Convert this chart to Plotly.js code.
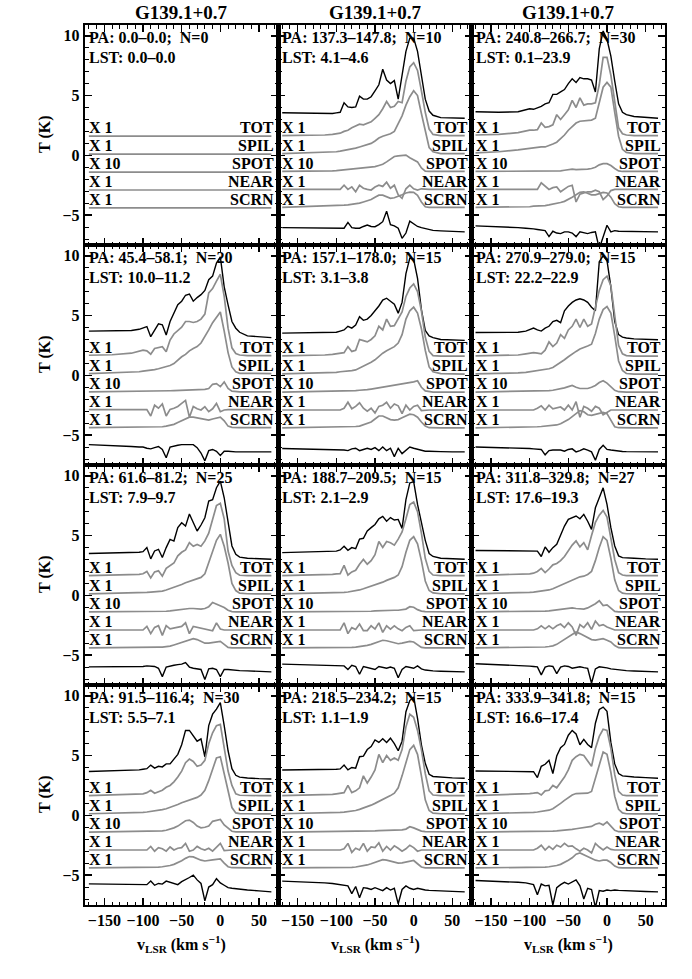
<!DOCTYPE html>
<html>
<head>
<meta charset="utf-8">
<script src="https://cdn.plot.ly/plotly-3.0.1.min.js"></script>
<style>html,body{margin:0;padding:0;background:#fff;}#plot{width:692px;height:979px;}</style>
</head>
<body>
<div id="plot"></div>
<script>
// ---------------- DATA ----------------
const vel = [-170,-140,-115,-105,-100,-95,-90,-85,-80,-75,-70,-65,-60,-55,-50,-45,-40,-35,-30,-25,-20,-15,-10,-5,0,5,10,15,20,25,35,50,66];

const columnTitles = ['G139.1+0.7','G139.1+0.7','G139.1+0.7'];
const paLabels = ['PA: 0.0–0.0;  N=0','PA: 137.3–147.8;  N=10','PA: 240.8–266.7;  N=30',
  'PA: 45.4–58.1;  N=20','PA: 157.1–178.0;  N=15','PA: 270.9–279.0;  N=15',
  'PA: 61.6–81.2;  N=25','PA: 188.7–209.5;  N=15','PA: 311.8–329.8;  N=27',
  'PA: 91.5–116.4;  N=30','PA: 218.5–234.2;  N=15','PA: 333.9–341.8;  N=15'];
const lstLabels = ['LST: 0.0–0.0','LST: 4.1–4.6','LST: 0.1–23.9','LST: 10.0–11.2','LST: 3.1–3.8','LST: 22.2–22.9',
  'LST: 7.9–9.7','LST: 2.1–2.9','LST: 17.6–19.3','LST: 5.5–7.1','LST: 1.1–1.9','LST: 16.6–17.4'];
const scaleLabels = ['X 1','X 1','X 10','X 1','X 1'];
const compNames = ['TOT','SPIL','SPOT','NEAR','SCRN'];
const xTickVals = [-150,-100,-50,0,50];
const yTickVals = [-5,0,5,10];

// panel 1 (N=0): flat components
const p1_zero = [0,0,0,0,0,0,0,0,0,0,0,0,0,0,0,0,0,0,0,0,0,0,0,0,0,0,0,0,0,0,0,0,0];

// panel 2
const p2_totBlack=[0.46,0.43,0.4,0.4,0.45,0.5,1.3,0.95,0.9,0.95,1.85,1.6,1.6,1.8,2.3,2.8,4.1,3.2,2.9,3.15,1.6,3.7,5.6,6.7,6.7,5.6,3.6,1.6,0.6,0.25,0.05,0.0,0.0];
const p2_totGray=[0.05,0.05,0.1,0.15,0.2,0.25,0.4,0.5,0.7,0.85,1.0,0.95,1.1,1.2,1.5,1.8,2.3,2.9,2.4,2.5,2.9,2.8,4.6,5.8,6.15,5.5,3.8,2.0,0.6,0.15,0.05,0.05,0.05];
const p2_spil=[0.05,0.1,0.15,0.2,0.2,0.25,0.3,0.35,0.4,0.5,0.6,0.7,0.8,0.9,1.1,1.35,1.5,1.6,1.7,1.9,2.5,3.2,4.1,4.8,5.3,4.9,3.4,1.9,0.55,0.2,0.05,0.05,0.05];
const p2_spot=[0.05,0.05,0.1,0.1,0.12,0.15,0.18,0.2,0.25,0.3,0.33,0.35,0.35,0.4,0.45,0.55,0.65,0.85,1.1,1.3,1.35,1.4,1.42,1.2,1.05,0.85,0.35,0.08,0.05,0.05,0.05,0.05,0.05];
const p2_near=[0.05,0.05,0.05,0.05,0.05,0.05,0.4,0.05,0.26,-0.15,0.4,0.15,0.05,0.0,0.25,0.4,0.3,0.65,0.15,0.4,-0.4,-0.7,0.1,0.4,0.1,0.0,0.1,0.05,0.05,0.05,0.05,0.05,0.05];
const p2_scrn=[0.05,0.1,0.15,0.17,0.18,0.2,0.23,0.26,0.3,0.35,0.4,0.5,0.6,0.7,0.9,1.07,1.07,0.95,0.8,0.85,0.95,1.1,1.25,1.32,1.3,1.05,0.5,0.1,0.05,0.05,0.05,0.05,0.05];
const p2_resid=[0.35,0.32,0.3,0.28,0.28,0.27,0.3,0.79,0.35,0.3,0.3,0.45,0.57,0.45,0.43,0.6,0.85,1.73,0.6,0.5,0.3,-0.54,-0.1,0.9,0.7,0.45,0.35,0.28,0.18,0.12,0.08,0.03,0.0];

// panel 3
const p3_totBlack=[0.55,0.5,0.55,0.75,0.8,0.75,0.85,1.0,1.2,1.3,2.0,2.0,2.2,2.4,2.9,3.3,3.0,3.4,3.3,3.3,3.2,2.2,5.8,7.3,6.6,5.2,3.1,1.2,0.5,0.3,0.15,0.05,0.0];
const p3_totGray=[0.1,0.15,0.3,0.45,0.5,0.5,0.55,1.1,0.75,0.8,0.95,1.8,1.4,1.8,2.2,3.0,2.4,3.2,2.6,2.7,2.7,2.8,4.3,6.6,6.6,5.1,2.8,0.7,0.2,0.1,0.05,0.05,0.05];
const p3_spil=[0.1,0.2,0.35,0.45,0.5,0.5,0.55,0.6,0.6,0.7,0.85,1.0,1.3,1.6,2.0,2.3,2.6,2.75,2.8,2.8,2.85,3.0,4.2,5.6,6.0,5.6,3.5,1.5,0.4,0.15,0.05,0.05,0.05];
const p3_spot=[0.05,0.05,0.06,0.07,0.08,0.08,0.09,0.1,0.1,0.1,0.1,0.1,0.1,0.15,0.2,0.25,0.2,0.2,0.2,0.25,0.3,0.4,0.6,0.7,0.7,0.55,0.3,0.1,0.05,0.05,0.05,0.05,0.05];
const p3_near=[0.05,0.05,0.05,0.05,0.05,0.05,0.05,0.6,0.35,0.05,0.2,0.25,-0.15,0.05,0.3,0.4,-1.0,-0.35,-0.25,-0.15,-0.15,-0.02,-0.15,-0.8,-0.5,-0.05,0.05,0.05,0.05,0.05,0.05,0.05,0.05];
const p3_scrn=[0.05,0.05,0.1,0.1,0.1,0.15,0.15,0.2,0.2,0.25,0.3,0.35,0.45,0.55,0.7,0.9,1.1,1.3,1.35,1.2,1.1,1.1,1.2,1.3,1.25,0.9,0.35,0.1,0.05,0.05,0.05,0.05,0.05];
const p3_resid=[0.5,0.45,0.35,0.3,0.3,0.25,0.2,0.15,0.1,-0.4,0.05,-0.1,-0.15,0.0,0.0,-0.1,-0.4,0.0,-0.1,-0.15,-0.05,0.0,-1.4,-0.5,0.55,0.0,0.1,0.05,0.05,0.05,0.05,0.02,0.0];

// panel 4
const p4_totBlack=[0.6,0.6,0.65,0.75,0.84,0.98,0.13,0.7,1.2,1.12,0.27,1.4,2.1,2.8,3.1,3.6,3.7,3.1,3.4,3.65,4.0,4.9,5.2,6.3,6.8,4.3,2.8,1.4,0.84,0.5,0.2,0.1,0.05];
const p4_totGray=[0.08,0.12,0.25,0.4,0.5,0.45,0.17,0.65,0.73,0.8,0.37,1.35,1.86,2.14,2.42,2.9,2.9,2.82,2.9,3.1,3.52,5.3,5.66,6.28,6.85,5.01,2.34,0.7,0.22,0.1,0.05,0.05,0.05];
const p4_spil=[0.05,0.1,0.15,0.2,0.25,0.28,0.32,0.38,0.45,0.54,0.62,0.72,0.88,1.2,1.45,1.65,1.95,2.15,2.3,2.6,3.1,3.7,4.3,4.8,5.2,3.6,1.8,0.6,0.2,0.07,0.05,0.05,0.05];
const p4_spot=[0.02,0.03,0.04,0.05,0.05,0.06,0.07,0.08,0.09,0.1,0.1,0.11,0.12,0.13,0.14,0.15,0.16,0.17,0.18,0.2,0.22,0.3,0.65,0.7,0.45,0.85,0.3,0.08,0.03,0.02,0.02,0.02,0.02];
const p4_near=[0.03,0.03,0.03,0.03,0.03,0.03,-0.5,0.4,0.15,0.5,-0.5,0.05,0.15,0.3,0.55,0.8,-0.6,0.3,0.1,0.0,0.28,-0.14,0.1,0.55,-0.14,0.0,0.03,0.03,0.03,0.03,0.03,0.03,0.03];
const p4_scrn=[0.02,0.03,0.04,0.05,0.05,0.05,0.06,0.07,0.08,0.1,0.15,0.2,0.3,0.45,0.6,0.8,0.9,0.9,0.85,0.8,0.7,0.65,0.75,0.85,0.9,0.6,0.15,0.05,0.02,0.02,0.02,0.02,0.02];
const p4_resid=[0.6,0.55,0.45,0.4,0.4,0.3,0.25,0.35,0.45,0.2,-0.5,0.4,0.5,0.55,0.6,0.6,0.65,0.6,0.35,-0.1,-0.75,0.1,0.2,0.05,-0.3,0.05,0.05,0.0,0.0,0.0,0.0,0.0,0.0];

// panel 5
const p5_totBlack=[0.43,0.45,0.45,0.48,0.5,0.6,0.7,1.0,0.85,1.1,1.8,1.5,1.6,1.9,2.3,2.7,3.2,3.35,3.1,2.85,2.1,3.0,5.4,6.7,6.6,5.0,2.4,0.65,0.2,0.05,-0.1,-0.15,-0.18];
const p5_totGray=[0.02,0.05,0.1,0.15,0.2,0.25,0.3,0.8,0.4,0.5,1.4,1.3,1.2,1.4,1.7,2.5,2.2,3.1,2.5,2.55,3.1,3.7,5.0,5.7,6.05,5.4,3.8,1.6,0.4,0.05,0.0,0.0,0.0];
const p5_spil=[0.02,0.05,0.1,0.12,0.15,0.2,0.22,0.25,0.3,0.35,0.5,0.65,0.8,1.0,1.2,1.5,1.75,1.95,2.1,2.3,2.6,3.3,4.6,5.3,5.6,5.1,3.8,2.0,0.6,0.2,0.05,0.0,0.0];
const p5_spot=[0.0,0.02,0.05,0.05,0.05,0.05,0.08,0.1,0.1,0.12,0.15,0.15,0.2,0.25,0.3,0.35,0.45,0.5,0.55,0.6,0.65,0.7,0.7,0.75,0.85,0.95,0.4,0.1,0.02,0.0,0.0,0.0,0.0];
const p5_near=[0,0,0,0,0,0,0.15,0.65,0.1,0.3,0.6,0.15,-0.1,0.15,-0.25,0.3,0.4,0.65,0.15,0.5,0.35,-0.3,0.4,0.0,0.3,0.4,-0.05,0,0,0,0,0,0];
const p5_scrn=[0,0.02,0.05,0.05,0.05,0.05,0.07,0.1,0.1,0.12,0.15,0.25,0.35,0.5,0.75,1.0,1.0,0.85,0.7,0.65,0.7,0.85,1.0,1.15,1.1,0.9,0.5,0.15,0.02,0,0,0,0];
const p5_resid=[0.28,0.25,0.2,0.18,0.15,0.15,0.15,0.1,0.25,0.3,0.1,0.2,0.3,0.2,0.35,0.1,0.4,0.1,0.3,-0.4,0.3,-0.15,0.15,0.4,0.3,0.2,0.1,0.05,0.05,0.03,0.02,0,0];

// panel 6
const p6_totBlack=[0.48,0.48,0.5,0.6,0.7,0.85,0.7,0.6,0.85,1.0,1.4,1.5,1.3,2.3,2.7,3.0,3.2,3.3,3.2,3.0,2.6,2.3,6.4,6.9,6.5,4.3,1.4,0.3,0.1,0.02,-0.05,-0.1,-0.12];
const p6_totGray=[0.02,0.05,0.1,0.2,0.25,0.3,0.25,0.2,0.5,1.2,0.8,1.1,1.8,1.5,2.2,2.5,3.1,2.4,3.1,2.5,2.7,4.0,5.5,6.4,6.7,5.9,3.4,0.9,0.2,0.05,0,0,0];
const p6_spil=[0.02,0.05,0.1,0.15,0.2,0.22,0.28,0.32,0.4,0.45,0.55,0.75,0.95,1.2,1.45,1.7,1.9,2.1,2.2,2.35,2.5,3.4,4.6,5.4,5.65,5.1,3.2,1.1,0.3,0.05,0,0,0];
const p6_spot=[0,0.02,0.04,0.05,0.06,0.07,0.08,0.09,0.1,0.12,0.15,0.2,0.25,0.35,0.45,0.55,0.4,0.3,0.3,0.3,0.4,0.55,0.8,0.95,0.75,0.45,0.15,0.03,0,0,0,0,0];
const p6_near=[0,0,0,0,0,0,0.15,0.35,0.0,0.4,0.1,0.15,0.25,0.0,0.4,0.0,0.7,-0.6,0.3,0.15,-0.1,0.3,0.15,-0.4,-0.2,0.0,0,0,0,0,0,0,0];
const p6_scrn=[0,0.02,0.05,0.05,0.07,0.08,0.1,0.12,0.15,0.17,0.2,0.25,0.35,0.5,0.7,0.95,1.2,1.45,1.35,1.1,1.05,1.15,1.25,1.3,1.2,0.6,0.1,0.02,0,0,0,0,0];
const p6_resid=[0.41,0.38,0.33,0.3,0.28,0.25,0.22,0.2,-0.25,0.1,0.15,0.12,0.15,0.05,0.2,0.25,0.0,0.1,0.25,0.15,0.0,-0.7,0.2,0.55,0.2,0.15,0.1,0.05,0.03,0.02,0.01,0,0];

// panel 7
const p7_totBlack=[0.4,0.42,0.45,0.5,0.55,0.9,-0.05,0.61,0.75,0.06,0.89,1.58,1.44,2.56,2.97,2.69,3.7,2.97,2.28,2.78,3.39,4.78,4.9,5.9,6.45,5.06,2.97,1.03,0.33,0.1,0.0,-0.05,-0.08];
const p7_totGray=[0.05,0.08,0.12,0.15,0.2,0.4,-0.15,0.36,0.45,0.0,0.65,0.85,1.1,1.7,2.0,2.2,2.8,2.5,2.65,2.5,2.95,3.6,4.8,5.9,6.1,4.8,2.1,0.9,0.3,0.08,0.05,0.05,0.05];
const p7_spil=[0.02,0.05,0.07,0.1,0.12,0.14,0.17,0.2,0.22,0.25,0.35,0.45,0.55,0.65,0.8,0.95,1.05,1.15,1.3,1.4,1.7,2.6,3.5,4.5,5.0,4.0,2.6,0.9,0.3,0.08,0.03,0.02,0.02];
const p7_spot=[0.02,0.02,0.03,0.03,0.04,0.04,0.05,0.05,0.05,0.06,0.07,0.1,0.15,0.2,0.2,0.25,0.3,0.3,0.25,0.25,0.3,0.45,0.8,0.65,0.5,0.38,0.15,0.04,0.02,0.02,0.02,0.02,0.02];
const p7_near=[0,0,0,0,0,0.3,-0.3,0.22,0.36,-0.45,0.36,0.1,0.15,0.22,0.3,0.6,-0.3,0.3,0.22,0.2,0.08,0.0,-0.06,0.6,0.08,0.0,0,0,0,0,0,0,0];
const p7_scrn=[0,0,0.01,0.02,0.03,0.04,0.05,0.05,0.06,0.07,0.1,0.15,0.25,0.35,0.45,0.6,0.7,0.78,0.7,0.55,0.4,0.4,0.45,0.5,0.55,0.3,0.05,0,0,0,0,0,0];
const p7_resid=[0.42,0.42,0.45,0.45,0.45,0.5,0.5,0.45,0.3,-0.4,0.4,0.5,0.55,0.6,0.65,0.78,0.4,0.3,0.25,0.2,-0.65,0.25,0.3,0.2,-0.4,0.2,0.2,0.15,0.12,0.1,0.08,0.03,0.0];

// panel 8
const p8_totBlack=[0.47,0.5,0.55,0.58,0.6,0.7,1.0,0.67,0.89,0.8,1.6,1.67,2.28,2.56,2.83,3.3,3.5,3.1,3.4,3.2,3.25,2.5,4.9,6.3,6.4,4.5,3.0,1.5,0.4,0.15,0.0,-0.05,-0.08];
const p8_totGray=[0.05,0.08,0.12,0.15,0.2,0.22,0.9,0.1,0.36,0.5,1.0,1.4,1.0,1.3,1.8,2.9,2.4,2.9,2.8,2.6,3.1,3.7,4.8,6.0,6.2,5.4,3.6,1.5,0.4,0.1,0.05,0.05,0.05];
const p8_spil=[0.02,0.05,0.07,0.08,0.1,0.12,0.15,0.18,0.22,0.28,0.35,0.45,0.55,0.65,0.78,0.9,1.0,1.15,1.25,1.4,1.6,2.3,3.5,4.5,4.8,4.2,2.8,1.1,0.3,0.1,0.03,0.02,0.02];
const p8_spot=[0.02,0.02,0.02,0.03,0.03,0.03,0.03,0.04,0.04,0.05,0.05,0.05,0.05,0.07,0.1,0.12,0.15,0.15,0.15,0.15,0.15,0.2,0.25,0.45,0.4,0.2,0.08,0.03,0.02,0.02,0.02,0.02,0.02];
const p8_near=[0,0,0,0,0,0,0.6,-0.3,0.2,0.05,0.5,-0.05,-0.05,0.35,0.08,0.6,-0.2,0.35,0.08,0.35,0.1,-0.06,0.22,0.36,-0.06,0.0,0,0,0,0,0,0,0];
const p8_scrn=[0,0,0,0.01,0.02,0.02,0.03,0.03,0.05,0.07,0.1,0.15,0.22,0.3,0.42,0.55,0.64,0.6,0.5,0.4,0.35,0.4,0.5,0.55,0.5,0.25,0.05,0,0,0,0,0,0];
const p8_resid=[0.65,0.6,0.58,0.56,0.55,0.55,0.5,0.2,0.55,0.45,-0.2,0.45,0.35,0.3,0.2,0.45,0.35,0.3,0.4,0.3,-0.5,0.2,0.45,0.35,0.3,0.5,0.25,0.15,0.1,0.08,0.05,0.02,0.0];

// panel 9
const p9_totBlack=[0.65,0.62,0.6,0.6,0.6,0.6,0.6,0.15,0.95,0.5,0.89,1.17,2.0,2.69,3.25,3.39,3.53,3.3,3.67,3.1,2.42,4.22,5.06,5.89,4.5,2.56,1.03,0.2,0.05,0.02,0.0,-0.05,-0.08];
const p9_totGray=[0.05,0.1,0.15,0.18,0.2,0.25,0.4,0.65,0.3,0.6,0.95,1.06,1.3,1.65,2.17,2.6,2.95,2.45,2.8,2.2,3.4,4.5,5.1,5.5,4.95,3.2,1.4,0.3,0.1,0.05,0.05,0.05,0.05];
const p9_spil=[0.02,0.05,0.1,0.12,0.15,0.17,0.2,0.25,0.3,0.35,0.45,0.6,0.75,0.9,1.05,1.2,1.35,1.45,1.5,1.65,1.9,2.8,3.9,4.8,4.5,3.0,1.2,0.3,0.08,0.03,0.02,0.02,0.02];
const p9_spot=[0.02,0.02,0.03,0.04,0.05,0.06,0.07,0.07,0.08,0.1,0.15,0.2,0.25,0.3,0.35,0.35,0.3,0.25,0.25,0.35,0.5,0.7,0.95,0.55,0.6,0.3,0.05,0.02,0.02,0.02,0.02,0.02,0.02];
const p9_near=[0,0,0,0,0,0,0.1,0.35,0.1,0.35,0.1,0.35,0.5,0.2,0.6,0.25,-0.45,0.45,0.2,0.6,0.05,0.75,0.35,0.45,0.25,0.1,0,0,0,0,0,0,0];
const p9_scrn=[0,0.01,0.02,0.03,0.04,0.05,0.05,0.06,0.08,0.12,0.17,0.3,0.5,0.7,0.92,1.15,1.33,1.2,1.05,0.9,0.7,0.65,0.7,0.78,0.65,0.5,0.2,0.02,0,0,0,0,0];
const p9_resid=[0.68,0.62,0.55,0.5,0.48,0.45,0.42,-0.25,0.4,0.5,0.45,-0.15,0.4,0.5,0.45,0.3,0.35,0.42,0.35,0.3,-0.95,0.25,0.42,0.4,0.33,0.25,0.2,0.15,0.12,0.1,0.07,0.03,0.0];

// panel 10
const p10_totBlack=[0.56,0.6,0.65,0.7,0.75,0.8,1.1,0.85,1.0,0.95,1.2,1.2,1.6,2.0,2.8,4.0,4.0,3.5,3.1,3.3,1.8,4.4,5.36,5.78,6.33,4.4,2.3,0.8,0.25,0.1,0.02,-0.03,-0.06];
const p10_totGray=[0.05,0.1,0.15,0.17,0.2,0.3,0.5,0.25,0.35,0.5,0.75,0.9,1.2,1.6,2.1,2.8,3.1,2.9,2.5,2.6,3.0,4.39,5.3,5.9,6.0,4.0,2.1,0.9,0.2,0.08,0.05,0.05,0.05];
const p10_spil=[0.03,0.06,0.1,0.12,0.15,0.18,0.22,0.26,0.3,0.38,0.45,0.55,0.65,0.8,0.95,1.05,1.15,1.25,1.4,1.6,2.0,2.8,3.67,4.7,4.8,3.4,1.9,0.55,0.1,0.05,0.03,0.02,0.02];
const p10_spot=[0.0,0.02,0.03,0.04,0.05,0.05,0.06,0.07,0.08,0.1,0.15,0.22,0.35,0.5,0.75,0.95,1.0,0.8,0.5,0.35,0.4,0.5,0.9,0.95,1.05,0.6,0.3,0.07,0.02,0.02,0.02,0.02,0.02];
const p10_near=[0,0,0,0,0,0,0.3,-0.1,0.2,0.1,-0.1,0.25,0.0,0.15,0.2,0.55,-0.1,0.0,0.3,0.1,0.0,0.15,-0.1,0.2,0.55,-0.05,0,0,0,0,0,0,0];
const p10_scrn=[0,0.01,0.02,0.03,0.04,0.04,0.04,0.05,0.07,0.1,0.14,0.2,0.3,0.42,0.6,0.8,0.95,0.92,0.78,0.65,0.58,0.6,0.68,0.72,0.75,0.4,0.1,0.02,0,0,0,0,0];
const p10_resid=[0.67,0.65,0.62,0.6,0.6,0.6,0.9,0.55,0.7,0.65,0.9,0.8,0.65,0.6,0.85,1.0,1.2,1.4,1.0,0.7,-0.75,0.4,0.6,1.1,0.75,0.55,0.35,0.3,0.25,0.2,0.15,0.08,0.0];

// panel 11
const p11_totBlack=[0.69,0.7,0.7,0.72,0.75,0.78,1.1,0.7,0.9,0.85,1.8,1.85,2.4,2.65,3.2,3.0,3.3,3.0,3.35,2.9,2.3,3.1,5.56,6.5,6.8,5.0,2.8,1.25,0.33,0.15,0.08,0.03,0.0];
const p11_totGray=[0.05,0.08,0.12,0.15,0.2,0.22,0.3,0.9,0.3,0.45,0.7,1.7,1.1,1.6,2.2,3.5,2.8,3.4,3.0,3.2,3.0,3.9,5.8,6.85,6.6,5.5,3.9,1.9,0.45,0.1,0.05,0.05,0.05];
const p11_spil=[0.03,0.05,0.08,0.1,0.12,0.14,0.17,0.2,0.25,0.3,0.4,0.5,0.62,0.75,0.9,1.05,1.2,1.4,1.55,1.75,2.2,3.2,4.4,5.4,5.75,5.0,3.2,1.2,0.3,0.08,0.03,0.02,0.02];
const p11_spot=[0,0.01,0.02,0.02,0.03,0.03,0.03,0.04,0.04,0.05,0.05,0.05,0.05,0.07,0.1,0.12,0.13,0.14,0.14,0.15,0.15,0.18,0.25,0.45,0.35,0.2,0.08,0.03,0.02,0.02,0.02,0.02,0.02];
const p11_near=[0,0,0,0,0,0,0.1,0.55,-0.2,0.15,0.0,0.55,-0.1,0.25,0.2,0.6,-0.1,0.3,0.0,0.35,0.15,-0.1,0.1,0.4,0.2,-0.1,0,0,0,0,0,0,0];
const p11_scrn=[0,0,0.01,0.02,0.02,0.03,0.03,0.03,0.05,0.08,0.12,0.18,0.25,0.35,0.48,0.6,0.69,0.65,0.58,0.48,0.4,0.42,0.5,0.6,0.62,0.35,0.08,0,0,0,0,0,0];
const p11_resid=[0.9,0.85,0.75,0.7,0.65,0.6,0.55,0.5,-0.15,0.45,-0.5,0.35,0.3,0.2,0.35,0.25,0.1,0.35,0.15,0.3,-1.0,0.2,0.5,0.3,0.2,0.3,0.2,0.15,0.12,0.1,0.08,0.04,0.0];

// panel 12
const p12_totBlack=[0.61,0.6,0.58,0.55,0.55,0.55,0.06,1.0,1.17,1.5,0.4,1.86,2.56,2.83,3.6,4.0,3.7,2.8,3.25,2.83,2.56,4.6,5.75,5.95,5.6,3.0,1.2,0.4,0.2,0.15,0.1,0.05,0.0];
const p12_totGray=[0.05,0.1,0.15,0.2,0.22,0.25,0.3,0.1,0.45,0.5,0.9,0.7,1.1,1.6,2.2,3.0,3.3,3.5,3.4,3.0,2.5,4.0,5.0,5.6,5.5,4.0,1.8,0.4,0.1,0.05,0.05,0.05,0.05];
const p12_spil=[0.02,0.05,0.08,0.1,0.12,0.15,0.18,0.22,0.28,0.33,0.45,0.65,0.9,1.15,1.4,1.6,1.72,1.75,1.78,1.75,1.9,3.0,4.3,5.2,5.0,3.5,1.5,0.4,0.1,0.03,0.02,0.02,0.02];
const p12_spot=[0,0.01,0.02,0.03,0.03,0.04,0.04,0.05,0.05,0.07,0.08,0.1,0.12,0.15,0.2,0.22,0.28,0.33,0.38,0.42,0.47,0.65,0.75,0.6,0.85,0.5,0.15,0.03,0.02,0.02,0.02,0.02,0.02];
const p12_near=[0,0,0,0,0,0,0.15,0.4,0.0,0.3,0.05,0.4,0.25,0.55,0.3,0.35,0.1,-0.1,0.15,0.0,-0.25,0.55,0.25,0.0,0.25,0.05,0,0,0,0,0,0,0];
const p12_scrn=[0,0.01,0.02,0.03,0.04,0.05,0.05,0.05,0.07,0.1,0.14,0.2,0.3,0.45,0.65,0.85,1.15,1.25,1.1,0.95,0.8,0.65,0.58,0.65,0.65,0.45,0.15,0.02,0,0,0,0,0];
const p12_resid=[0.95,0.9,0.8,0.75,0.7,0.6,-0.25,0.65,0.5,0.55,-1.1,0.35,0.6,0.8,0.65,0.85,1.0,0.5,-0.6,0.3,0.2,-1.3,0.1,0.05,0.15,0.1,0.15,0.12,0.1,0.1,0.06,0.03,0.0];

// ---------------- LAYOUT / STYLE ----------------
const FONT = '"Liberation Serif", "Times New Roman", serif';
const offsets = [3.1, 1.6, 0.1, -1.4, -2.9, -4.4, -6.4];   // stacking of the seven curves
const lineColors = ['#000000','#8c8c8c','#8c8c8c','#8c8c8c','#8c8c8c','#8c8c8c','#000000'];
const lineWidths = [1.4,1.7,1.7,1.7,1.7,1.7,1.4];

const panels = [
  [null, p1_zero, p1_zero, p1_zero, p1_zero, p1_zero, null],
  [p2_totBlack,p2_totGray,p2_spil,p2_spot,p2_near,p2_scrn,p2_resid],
  [p3_totBlack,p3_totGray,p3_spil,p3_spot,p3_near,p3_scrn,p3_resid],
  [p4_totBlack,p4_totGray,p4_spil,p4_spot,p4_near,p4_scrn,p4_resid],
  [p5_totBlack,p5_totGray,p5_spil,p5_spot,p5_near,p5_scrn,p5_resid],
  [p6_totBlack,p6_totGray,p6_spil,p6_spot,p6_near,p6_scrn,p6_resid],
  [p7_totBlack,p7_totGray,p7_spil,p7_spot,p7_near,p7_scrn,p7_resid],
  [p8_totBlack,p8_totGray,p8_spil,p8_spot,p8_near,p8_scrn,p8_resid],
  [p9_totBlack,p9_totGray,p9_spil,p9_spot,p9_near,p9_scrn,p9_resid],
  [p10_totBlack,p10_totGray,p10_spil,p10_spot,p10_near,p10_scrn,p10_resid],
  [p11_totBlack,p11_totGray,p11_spil,p11_spot,p11_near,p11_scrn,p11_resid],
  [p12_totBlack,p12_totGray,p12_spil,p12_spot,p12_near,p12_scrn,p12_resid]
];

const W = 692, H = 979;
const M = {l:85, r:27, t:25, b:74};
const PW = W - M.l - M.r, PH = H - M.t - M.b;
const px2x = px => (px - M.l) / PW;
const py2y = py => (H - M.b - py) / PH;

const traces = [];
const txtFont = {family: FONT, size: 16, color: '#000', weight: 'bold'};
const layout = {
  width: W, height: H, margin: M,
  paper_bgcolor: '#fff', plot_bgcolor: '#fff',
  showlegend: false, hovermode: false,
  font: {family: FONT, size: 16, color: '#000', weight: 'bold'},
  annotations: []
};

for (let p = 0; p < 12; p++) {
  const row = Math.floor(p / 3), col = p % 3;
  const n = p + 1;
  const xid = n === 1 ? 'x' : 'x' + n, yid = n === 1 ? 'y' : 'y' + n;
  const xkey = n === 1 ? 'xaxis' : 'xaxis' + n, ykey = n === 1 ? 'yaxis' : 'yaxis' + n;
  const common = {
    ticks: 'inside', ticklen: 7, tickwidth: 1.5, tickcolor: '#000',
    showline: true, linewidth: 2.2, linecolor: '#000', mirror: 'allticks',
    showgrid: false, zeroline: false, fixedrange: true,
    tickfont: {family: FONT, size: 16, color: '#000', weight: 'bold'}
  };
  layout[xkey] = Object.assign({}, common, {
    domain: [col / 3, (col + 1) / 3], anchor: yid, range: [-175, 75],
    tickmode: 'array', tickvals: xTickVals, showticklabels: row === 3,
    minor: {ticks: 'inside', ticklen: 3.5, tickwidth: 1, tickcolor: '#000', dtick: 10, tick0: 0}
  });
  layout[ykey] = Object.assign({}, common, {
    domain: [1 - (row + 1) / 4, 1 - row / 4], anchor: xid, range: [-7.5, 10.9],
    tickmode: 'array', tickvals: yTickVals, showticklabels: col === 0,
    minor: {ticks: 'inside', ticklen: 3.5, tickwidth: 1, tickcolor: '#000', dtick: 1, tick0: 0}
  });

  panels[p].forEach((arr, k) => {
    if (!arr) return;
    traces.push({
      type: 'scatter', mode: 'lines', x: vel, y: arr.map(v => v + offsets[k]),
      xaxis: xid, yaxis: yid,
      line: {color: lineColors[k], width: lineWidths[k]}
    });
  });

  // PA and LST text (two separate lines)
  layout.annotations.push({
    xref: xid + ' domain', yref: yid + ' domain', x: 0, y: 1, xanchor: 'left', yanchor: 'top',
    xshift: 2, yshift: -2, showarrow: false,
    text: paLabels[p].replace('  ', ' \u00a0'), font: txtFont
  });
  layout.annotations.push({
    xref: xid + ' domain', yref: yid + ' domain', x: 0, y: 1, xanchor: 'left', yanchor: 'top',
    xshift: 2, yshift: -22, showarrow: false,
    text: lstLabels[p], font: txtFont
  });
  // component labels
  for (let c = 0; c < 5; c++) {
    layout.annotations.push({
      xref: xid + ' domain', yref: yid, x: 0, y: offsets[c + 1], xanchor: 'left', yanchor: 'bottom',
      xshift: 2, yshift: -2, showarrow: false, text: scaleLabels[c], font: txtFont
    });
    layout.annotations.push({
      xref: xid + ' domain', yref: yid, x: 1, y: offsets[c + 1], xanchor: 'right', yanchor: 'bottom',
      xshift: -2, yshift: -2, showarrow: false, text: compNames[c], font: txtFont
    });
  }
}

// column titles and x-axis titles
for (let c = 0; c < 3; c++) {
  layout.annotations.push({
    xref: 'paper', yref: 'paper', x: (c + 0.5) / 3, y: py2y(13), xanchor: 'center', yanchor: 'middle',
    showarrow: false, text: columnTitles[c],
    font: {family: FONT, size: 19, color: '#000', weight: 'bold'}
  });
  layout.annotations.push({
    xref: 'paper', yref: 'paper', x: (c + 0.5) / 3, y: py2y(944), xanchor: 'center', yanchor: 'middle',
    showarrow: false, text: 'v<sub>LSR</sub> (km s<sup>−1</sup>)', font: txtFont
  });
}
// y-axis titles
for (let r = 0; r < 4; r++) {
  layout.annotations.push({
    xref: 'paper', yref: 'paper', x: px2x(45), y: 1 - (r + 0.5) / 4, xanchor: 'center', yanchor: 'middle',
    textangle: -90, showarrow: false, text: 'T (K)', font: txtFont
  });
}

Plotly.newPlot('plot', traces, layout, {staticPlot: true, displayModeBar: false});
</script>
</body>
</html>
